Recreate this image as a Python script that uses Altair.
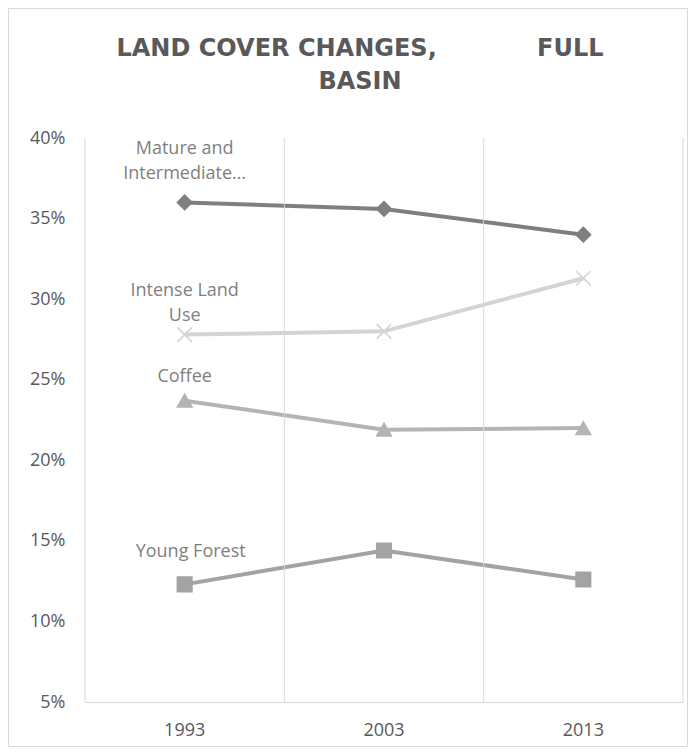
import altair as alt
import pandas as pd

# ---- data ----
years = ["1993", "2003", "2013"]
series_names = ["Mature and Intermediate Forest", "Intense Land Use", "Coffee", "Young Forest"]
mature = [0.360, 0.356, 0.340]
intense = [0.278, 0.280, 0.313]
coffee = [0.237, 0.219, 0.220]
young = [0.123, 0.144, 0.126]
label_texts = ["Mature and\nIntermediate\u2026", "Intense Land\nUse", "Coffee", "Young Forest"]
y_ticks = [0.05, 0.10, 0.15, 0.20, 0.25, 0.30, 0.35, 0.40]
title_lines = ["LAND COVER CHANGES," + "\u00a0" * 12 + "FULL", "BASIN"]

# ---- styles ----
colors = ["#7f7f7f", "#d4d4d4", "#b4b4b4", "#a3a3a3"]
shapes = ["diamond", "M-1,-1L1,1M-1,1L1,-1", "triangle-up", "square"]
label_offsets = [(0, -44), (0, -35), (0, -15), (6, -23)]
grid_color = "#d9d9d9"
font = "Open Sans"

values = [mature, intense, coffee, young]
rows = []
for name, vals in zip(series_names, values):
    for yr, v in zip(years, vals):
        rows.append({"series": name, "year": yr, "value": v})
df = pd.DataFrame(rows)

W, H = 598, 564
PAD = {"left": 77, "top": 130, "right": 8, "bottom": 46}

xscale = alt.Scale(type="band", domain=years, paddingInner=0, paddingOuter=0)
yscale = alt.Scale(domain=[0.05, 0.40], nice=False, zero=False)
cscale = alt.Scale(domain=series_names, range=colors)
sscale = alt.Scale(domain=series_names, range=shapes)

x_axis = alt.Axis(
    title=None, grid=False, ticks=False, tickSize=0, domain=True,
    domainColor=grid_color, domainWidth=1, labelFont=font, labelFontSize=18,
    labelColor="#595959", labelPadding=19, labelAngle=0,
)
y_axis = alt.Axis(
    title=None, grid=False, ticks=False, tickSize=0, domain=False,
    values=y_ticks, format=".0%", labelFont=font, labelFontSize=18,
    labelColor="#595959", labelPadding=20,
)

base = alt.Chart(df)

grid_df = pd.DataFrame({"year": years})
grid_start = alt.Chart(grid_df).mark_rule(color=grid_color, strokeWidth=1).encode(
    x=alt.X("year:N", scale=xscale, bandPosition=0)
)
grid_end = alt.Chart(pd.DataFrame({"year": [years[-1]]})).mark_rule(
    color=grid_color, strokeWidth=1
).encode(x=alt.X("year:N", scale=xscale, bandPosition=1))

border = alt.Chart(pd.DataFrame({"k": [0]})).mark_rect(
    filled=False, stroke=grid_color, strokeWidth=1
).encode(
    x=alt.value(-PAD["left"] + 0.5),
    x2=alt.value(W + PAD["right"] - 3.5),
    y=alt.value(-PAD["top"] + 0.5),
    y2=alt.value(H + PAD["bottom"] - 1.5),
)

lines = base.mark_line(strokeWidth=4).encode(
    x=alt.X("year:N", scale=xscale, axis=x_axis),
    y=alt.Y("value:Q", scale=yscale, axis=y_axis),
    color=alt.Color("series:N", scale=cscale, legend=None),
    detail="series:N",
)

points = base.mark_point(filled=True, strokeWidth=1.6, opacity=1).encode(
    x=alt.X("year:N", scale=xscale),
    y=alt.Y("value:Q", scale=yscale),
    shape=alt.Shape("series:N", scale=sscale, legend=None),
    fill=alt.Fill("series:N", scale=cscale, legend=None),
    stroke=alt.Stroke("series:N", scale=cscale, legend=None),
    size=alt.value(210),
)

label_layers = []
for name, txt, (dx, dy) in zip(series_names, label_texts, label_offsets):
    ldf = df[(df["series"] == name) & (df["year"] == years[0])].assign(label=txt)
    label_layers.append(
        alt.Chart(ldf).mark_text(
            font=font, fontSize=18, color="#7f7f7f", align="center",
            baseline="bottom", lineBreak="\n", lineHeight=25, dx=dx, dy=dy,
        ).encode(
            x=alt.X("year:N", scale=xscale),
            y=alt.Y("value:Q", scale=yscale),
            text="label:N",
        )
    )

chart = alt.layer(lines, border, grid_start, grid_end, points, *label_layers).properties(
    width=W,
    height=H,
    padding=PAD,
    background="white",
    autosize=alt.AutoSizeParams(type="none"),
    title=alt.TitleParams(
        text=title_lines,
        font="DejaVu Sans",
        fontSize=24,
        fontWeight="bold",
        color="#595959",
        anchor="middle",
        baseline="bottom",
        lineHeight=33,
        dx=-24,
        offset=-110,
    ),
).configure_view(stroke="transparent", strokeWidth=0)

chart.save("out.html", embed_options={"renderer": "svg", "actions": False})
